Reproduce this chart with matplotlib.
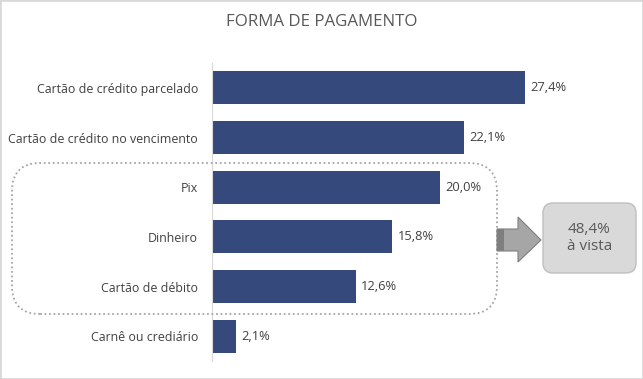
import matplotlib
matplotlib.use("Agg")
import matplotlib.pyplot as plt
from matplotlib.patches import FancyBboxPatch, Polygon, Rectangle

plt.rcParams.update({
    "font.family": ["Open Sans", "DejaVu Sans"],
})

# data
categories = [
    "Cartão de crédito parcelado",
    "Cartão de crédito no vencimento",
    "Pix",
    "Dinheiro",
    "Cartão de débito",
    "Carnê ou crediário",
]
values = [27.4, 22.1, 20.0, 15.8, 12.6, 2.1]
a_vista = ["Pix", "Dinheiro", "Cartão de débito"]

BAR = "#36497d"
TXT = "#404040"

W, H = 643, 379
fig = plt.figure(figsize=(W / 100, H / 100), dpi=100, facecolor="white")

# axes placed in pixel terms
left_px, top_px, bot_px = 212, 63, 361
px_per_pct = 313 / 27.4
xmax = 30
ax = fig.add_axes([left_px / W, 1 - bot_px / H, xmax * px_per_pct / W, (bot_px - top_px) / H])

y = list(range(len(categories)))
ax.barh(y, values, height=0.66, color=BAR)
ax.set_xlim(0, xmax)
ax.set_ylim(len(categories) - 0.5, -0.5)
ax.set_yticks(y)
ax.set_yticklabels(categories, fontsize=8.9, color=TXT)
ax.tick_params(axis="y", length=0, pad=10)
ax.set_xticks([])
for s in ["top", "right", "bottom"]:
    ax.spines[s].set_visible(False)
ax.spines["left"].set_color("#d9d9d9")
ax.patch.set_alpha(0)

for yi, v in zip(y, values):
    ax.text(v + 0.45, yi, f"{v:.1f}%".replace(".", ","), va="center", ha="left",
            fontsize=9.3, color=TXT)

fig.text(0.5, 1 - 22 / H, "FORMA DE PAGAMENTO", ha="center", va="center",
         fontsize=12.2, color="#595959")

# overlay in inches (pixel/100, y from bottom)
tr = fig.dpi_scale_trans
def inch(px, py):
    return px / 100, (H - py) / 100

# dotted rounded box around the "à vista" group
x0, y0 = inch(12, 314)
box = FancyBboxPatch((x0, y0), 4.85, 1.51, boxstyle="round,pad=0,rounding_size=0.28",
                     transform=tr, fill=False, edgecolor="#a6a6a6", linestyle=(0, (1, 1.5)),
                     linewidth=1.3, zorder=0)
fig.patches.append(box)

# arrow
arrow_pts = [inch(497, 229), inch(518, 229), inch(518, 217), inch(541, 240),
             inch(518, 262), inch(518, 251), inch(497, 251)]
fig.patches.append(Polygon(arrow_pts, closed=True, transform=tr, facecolor="#a6a6a6",
                           edgecolor="#7f7f7f", linewidth=0.8))
sx, sy = inch(497, 251)
fig.patches.append(Rectangle((sx, sy), 0.07, 0.22, transform=tr, facecolor="#7f7f7f",
                             edgecolor="none"))

# summary box
bx, by = inch(543, 273)
sumbox = FancyBboxPatch((bx, by), 0.93, 0.70, boxstyle="round,pad=0,rounding_size=0.1",
                        transform=tr, facecolor="#d9d9d9", edgecolor="#bfbfbf", linewidth=1)
fig.patches.append(sumbox)
total = sum(v for c, v in zip(categories, values) if c in a_vista)
cx, cy = inch(589.5, 238)
fig.text(cx, cy, f"{total:.1f}%".replace(".", ",") + "\nà vista", transform=tr,
         ha="center", va="center", fontsize=11, color="#595959", linespacing=1.25)

# outer border
fig.patches.append(Rectangle((0, 0), 1, 1, transform=fig.transFigure, fill=False,
                             edgecolor="#d9d9d9", linewidth=2))

fig.savefig("out.png", dpi=100, facecolor="white")
